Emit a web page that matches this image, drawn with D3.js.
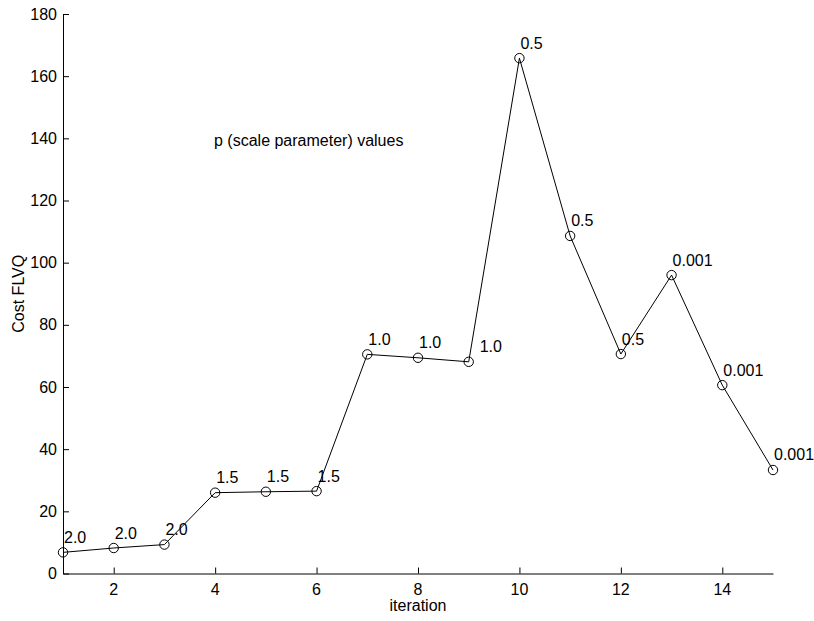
<!DOCTYPE html>
<html>
<head>
<meta charset="utf-8">
<script src="https://cdn.jsdelivr.net/npm/d3@7"></script>
<style>
  body { margin: 0; background: #fff; }
  text { font-family: "Liberation Sans", Arial, sans-serif; fill: #000; }
</style>
</head>
<body>
<div id="chart"></div>
<script>
var iterations = [1, 2, 3, 4, 5, 6, 7, 8, 9, 10, 11, 12, 13, 14, 15];
var cost = [6.8, 8.2, 9.3, 26.0, 26.3, 26.5, 70.5, 69.4, 68.1, 165.8, 108.6, 70.6, 96.0, 60.6, 33.3];
var pLabels = ["2.0", "2.0", "2.0", "1.5", "1.5", "1.5", "1.0", "1.0", "1.0", "0.5", "0.5", "0.5", "0.001", "0.001", "0.001"];
var xTicks = [2, 4, 6, 8, 10, 12, 14];
var yTicks = [0, 20, 40, 60, 80, 100, 120, 140, 160, 180];

var w = 814, h = 621;
var margin = { left: 63, right: 41, top: 14, bottom: 47.5 };

var svg = d3.select("#chart")
  .append("svg")
  .attr("width", w)
  .attr("height", h);

var x = d3.scaleLinear().domain([1, 15]).range([margin.left, w - margin.right]);
var y = d3.scaleLinear().domain([0, 180]).range([h - margin.bottom, margin.top]);

// axes, ticks pointing inward
svg.append("g")
  .attr("transform", "translate(0," + y(0) + ")")
  .call(d3.axisTop(x).tickValues(xTicks).tickSize(6).tickSizeOuter(0).tickFormat(""));

svg.append("g")
  .attr("transform", "translate(" + x(1) + ",0)")
  .call(d3.axisRight(y).tickValues(yTicks).tickSize(6).tickSizeOuter(0).tickFormat(""));

svg.selectAll(".domain, .tick line").attr("stroke", "#000").attr("stroke-width", 1);

svg.append("g").selectAll("text")
  .data(xTicks)
  .enter()
    .append("text")
    .attr("x", function(d) { return x(d); })
    .attr("y", y(0) + 21)
    .attr("text-anchor", "middle")
    .style("font-size", "16px")
    .text(function(d) { return d; });

svg.append("g").selectAll("text")
  .data(yTicks)
  .enter()
    .append("text")
    .attr("x", x(1) - 6)
    .attr("y", function(d) { return y(d) + 5.5; })
    .attr("text-anchor", "end")
    .style("font-size", "16px")
    .text(function(d) { return d; });

var points = iterations.map(function(d, i) {
  return { it: d, cost: cost[i], p: pLabels[i] };
});

var line = d3.line()
  .x(function(d) { return x(d.it); })
  .y(function(d) { return y(d.cost); });

svg.append("path")
  .datum(points)
  .attr("d", line)
  .attr("fill", "none")
  .attr("stroke", "#000")
  .attr("stroke-width", 1);

svg.append("g").selectAll("circle")
  .data(points)
  .enter()
    .append("circle")
    .attr("cx", function(d) { return x(d.it); })
    .attr("cy", function(d) { return y(d.cost); })
    .attr("r", 4.7)
    .attr("fill", "none")
    .attr("stroke", "#000")
    .attr("stroke-width", 1);

svg.append("g").selectAll("text")
  .data(points)
  .enter()
    .append("text")
    .attr("x", function(d) { return x(d.it) + (d.it === 9 ? 11 : 1); })
    .attr("y", function(d) { return y(d.cost) - 9.5; })
    .style("font-size", "16px")
    .text(function(d) { return d.p; });

svg.append("text")
  .attr("x", 214)
  .attr("y", 146)
  .style("font-size", "16px")
  .text("p (scale parameter) values");

svg.append("text")
  .attr("x", (x(1) + x(15)) / 2)
  .attr("y", 611)
  .attr("text-anchor", "middle")
  .style("font-size", "16px")
  .text("iteration");

svg.append("text")
  .attr("transform", "translate(24," + (y(0) + y(180)) / 2 + ") rotate(-90)")
  .attr("text-anchor", "middle")
  .style("font-size", "16px")
  .text("Cost FLVQ");
</script>
</body>
</html>
